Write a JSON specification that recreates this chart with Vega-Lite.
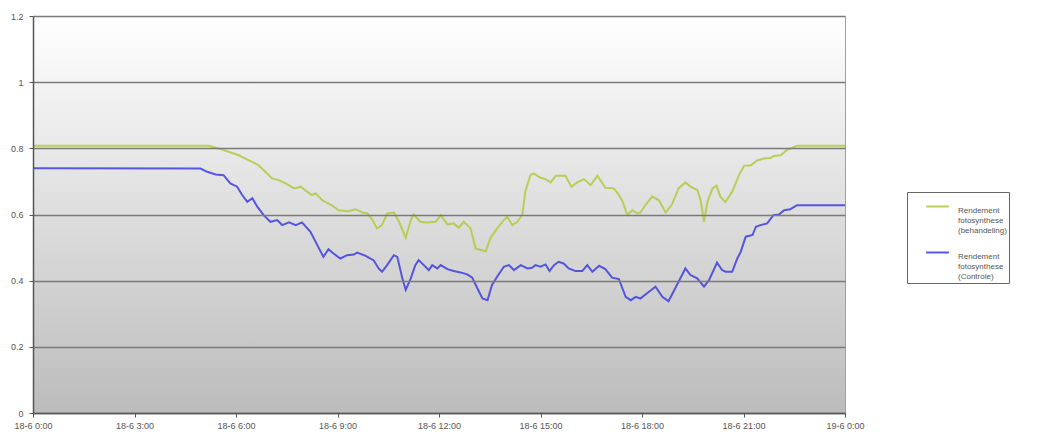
{
  "$schema": "https://vega.github.io/schema/vega-lite/v6.json",
  "width": 812,
  "height": 397,
  "autosize": {"type": "none"},
  "padding": {"left": 33, "top": 16, "right": 200, "bottom": 31},
  "background": "white",
  "view": {"stroke": "#a0a0a0"},
  "datasets": {
    "behandeling": [
      {"tijd": "2008-06-18T00:00", "waarde": 0.808},
      {"tijd": "2008-06-18T05:12", "waarde": 0.808},
      {"tijd": "2008-06-18T05:38", "waarde": 0.795},
      {"tijd": "2008-06-18T06:05", "waarde": 0.779},
      {"tijd": "2008-06-18T06:17", "waarde": 0.769},
      {"tijd": "2008-06-18T06:40", "waarde": 0.749},
      {"tijd": "2008-06-18T06:52", "waarde": 0.729},
      {"tijd": "2008-06-18T07:04", "waarde": 0.709},
      {"tijd": "2008-06-18T07:16", "waarde": 0.704},
      {"tijd": "2008-06-18T07:28", "waarde": 0.694},
      {"tijd": "2008-06-18T07:43", "waarde": 0.679},
      {"tijd": "2008-06-18T07:55", "waarde": 0.684},
      {"tijd": "2008-06-18T08:06", "waarde": 0.669},
      {"tijd": "2008-06-18T08:15", "waarde": 0.659},
      {"tijd": "2008-06-18T08:21", "waarde": 0.664},
      {"tijd": "2008-06-18T08:33", "waarde": 0.643},
      {"tijd": "2008-06-18T08:50", "waarde": 0.628},
      {"tijd": "2008-06-18T09:02", "waarde": 0.613},
      {"tijd": "2008-06-18T09:20", "waarde": 0.610},
      {"tijd": "2008-06-18T09:32", "waarde": 0.616},
      {"tijd": "2008-06-18T09:44", "waarde": 0.606},
      {"tijd": "2008-06-18T09:53", "waarde": 0.603},
      {"tijd": "2008-06-18T10:02", "waarde": 0.583},
      {"tijd": "2008-06-18T10:10", "waarde": 0.558},
      {"tijd": "2008-06-18T10:19", "waarde": 0.568},
      {"tijd": "2008-06-18T10:28", "waarde": 0.603},
      {"tijd": "2008-06-18T10:40", "waarde": 0.606},
      {"tijd": "2008-06-18T10:49", "waarde": 0.578},
      {"tijd": "2008-06-18T11:01", "waarde": 0.530},
      {"tijd": "2008-06-18T11:10", "waarde": 0.583},
      {"tijd": "2008-06-18T11:15", "waarde": 0.600},
      {"tijd": "2008-06-18T11:27", "waarde": 0.578},
      {"tijd": "2008-06-18T11:39", "waarde": 0.576},
      {"tijd": "2008-06-18T11:54", "waarde": 0.578},
      {"tijd": "2008-06-18T12:03", "waarde": 0.598},
      {"tijd": "2008-06-18T12:15", "waarde": 0.570},
      {"tijd": "2008-06-18T12:26", "waarde": 0.573},
      {"tijd": "2008-06-18T12:35", "waarde": 0.560},
      {"tijd": "2008-06-18T12:44", "waarde": 0.578},
      {"tijd": "2008-06-18T12:56", "waarde": 0.558},
      {"tijd": "2008-06-18T13:05", "waarde": 0.497},
      {"tijd": "2008-06-18T13:23", "waarde": 0.489},
      {"tijd": "2008-06-18T13:31", "waarde": 0.528},
      {"tijd": "2008-06-18T13:43", "waarde": 0.558},
      {"tijd": "2008-06-18T13:55", "waarde": 0.583},
      {"tijd": "2008-06-18T14:01", "waarde": 0.593},
      {"tijd": "2008-06-18T14:10", "waarde": 0.568},
      {"tijd": "2008-06-18T14:19", "waarde": 0.578},
      {"tijd": "2008-06-18T14:28", "waarde": 0.600},
      {"tijd": "2008-06-18T14:33", "waarde": 0.669},
      {"tijd": "2008-06-18T14:42", "waarde": 0.719},
      {"tijd": "2008-06-18T14:48", "waarde": 0.724},
      {"tijd": "2008-06-18T15:00", "waarde": 0.711},
      {"tijd": "2008-06-18T15:09", "waarde": 0.707},
      {"tijd": "2008-06-18T15:18", "waarde": 0.697},
      {"tijd": "2008-06-18T15:27", "waarde": 0.717},
      {"tijd": "2008-06-18T15:44", "waarde": 0.717},
      {"tijd": "2008-06-18T15:55", "waarde": 0.684},
      {"tijd": "2008-06-18T16:05", "waarde": 0.697},
      {"tijd": "2008-06-18T16:17", "waarde": 0.707},
      {"tijd": "2008-06-18T16:29", "waarde": 0.689},
      {"tijd": "2008-06-18T16:41", "waarde": 0.717},
      {"tijd": "2008-06-18T16:55", "waarde": 0.681},
      {"tijd": "2008-06-18T17:10", "waarde": 0.679},
      {"tijd": "2008-06-18T17:19", "waarde": 0.659},
      {"tijd": "2008-06-18T17:26", "waarde": 0.638},
      {"tijd": "2008-06-18T17:34", "waarde": 0.598},
      {"tijd": "2008-06-18T17:43", "waarde": 0.613},
      {"tijd": "2008-06-18T17:52", "waarde": 0.603},
      {"tijd": "2008-06-18T17:57", "waarde": 0.606},
      {"tijd": "2008-06-18T18:06", "waarde": 0.628},
      {"tijd": "2008-06-18T18:18", "waarde": 0.654},
      {"tijd": "2008-06-18T18:30", "waarde": 0.643},
      {"tijd": "2008-06-18T18:42", "waarde": 0.606},
      {"tijd": "2008-06-18T18:53", "waarde": 0.630},
      {"tijd": "2008-06-18T19:05", "waarde": 0.679},
      {"tijd": "2008-06-18T19:17", "waarde": 0.697},
      {"tijd": "2008-06-18T19:26", "waarde": 0.684},
      {"tijd": "2008-06-18T19:38", "waarde": 0.674},
      {"tijd": "2008-06-18T19:44", "waarde": 0.643},
      {"tijd": "2008-06-18T19:50", "waarde": 0.578},
      {"tijd": "2008-06-18T19:56", "waarde": 0.638},
      {"tijd": "2008-06-18T20:05", "waarde": 0.679},
      {"tijd": "2008-06-18T20:12", "waarde": 0.687},
      {"tijd": "2008-06-18T20:19", "waarde": 0.654},
      {"tijd": "2008-06-18T20:28", "waarde": 0.638},
      {"tijd": "2008-06-18T20:40", "waarde": 0.669},
      {"tijd": "2008-06-18T20:52", "waarde": 0.719},
      {"tijd": "2008-06-18T21:01", "waarde": 0.747},
      {"tijd": "2008-06-18T21:13", "waarde": 0.749},
      {"tijd": "2008-06-18T21:25", "waarde": 0.764},
      {"tijd": "2008-06-18T21:36", "waarde": 0.769},
      {"tijd": "2008-06-18T21:48", "waarde": 0.771},
      {"tijd": "2008-06-18T21:54", "waarde": 0.777},
      {"tijd": "2008-06-18T22:06", "waarde": 0.779},
      {"tijd": "2008-06-18T22:17", "waarde": 0.795},
      {"tijd": "2008-06-18T22:35", "waarde": 0.808},
      {"tijd": "2008-06-19T00:00", "waarde": 0.808}
    ],
    "controle": [
      {"tijd": "2008-06-18T00:00", "waarde": 0.740},
      {"tijd": "2008-06-18T04:57", "waarde": 0.739},
      {"tijd": "2008-06-18T05:09", "waarde": 0.729},
      {"tijd": "2008-06-18T05:24", "waarde": 0.721},
      {"tijd": "2008-06-18T05:38", "waarde": 0.719},
      {"tijd": "2008-06-18T05:50", "waarde": 0.694},
      {"tijd": "2008-06-18T06:02", "waarde": 0.684},
      {"tijd": "2008-06-18T06:11", "waarde": 0.659},
      {"tijd": "2008-06-18T06:20", "waarde": 0.638},
      {"tijd": "2008-06-18T06:29", "waarde": 0.649},
      {"tijd": "2008-06-18T06:38", "waarde": 0.623},
      {"tijd": "2008-06-18T06:49", "waarde": 0.598},
      {"tijd": "2008-06-18T07:01", "waarde": 0.578},
      {"tijd": "2008-06-18T07:13", "waarde": 0.583},
      {"tijd": "2008-06-18T07:22", "waarde": 0.568},
      {"tijd": "2008-06-18T07:34", "waarde": 0.576},
      {"tijd": "2008-06-18T07:46", "waarde": 0.568},
      {"tijd": "2008-06-18T07:57", "waarde": 0.576},
      {"tijd": "2008-06-18T08:12", "waarde": 0.548},
      {"tijd": "2008-06-18T08:21", "waarde": 0.518},
      {"tijd": "2008-06-18T08:35", "waarde": 0.472},
      {"tijd": "2008-06-18T08:44", "waarde": 0.495},
      {"tijd": "2008-06-18T08:53", "waarde": 0.482},
      {"tijd": "2008-06-18T09:05", "waarde": 0.467},
      {"tijd": "2008-06-18T09:17", "waarde": 0.477},
      {"tijd": "2008-06-18T09:29", "waarde": 0.479},
      {"tijd": "2008-06-18T09:35", "waarde": 0.485},
      {"tijd": "2008-06-18T09:50", "waarde": 0.475},
      {"tijd": "2008-06-18T09:56", "waarde": 0.469},
      {"tijd": "2008-06-18T10:04", "waarde": 0.462},
      {"tijd": "2008-06-18T10:13", "waarde": 0.437},
      {"tijd": "2008-06-18T10:19", "waarde": 0.427},
      {"tijd": "2008-06-18T10:28", "waarde": 0.447},
      {"tijd": "2008-06-18T10:40", "waarde": 0.477},
      {"tijd": "2008-06-18T10:46", "waarde": 0.472},
      {"tijd": "2008-06-18T10:55", "waarde": 0.407},
      {"tijd": "2008-06-18T11:01", "waarde": 0.372},
      {"tijd": "2008-06-18T11:10", "waarde": 0.407},
      {"tijd": "2008-06-18T11:18", "waarde": 0.447},
      {"tijd": "2008-06-18T11:24", "waarde": 0.462},
      {"tijd": "2008-06-18T11:33", "waarde": 0.447},
      {"tijd": "2008-06-18T11:42", "waarde": 0.432},
      {"tijd": "2008-06-18T11:48", "waarde": 0.447},
      {"tijd": "2008-06-18T11:57", "waarde": 0.437},
      {"tijd": "2008-06-18T12:03", "waarde": 0.447},
      {"tijd": "2008-06-18T12:15", "waarde": 0.435},
      {"tijd": "2008-06-18T12:26", "waarde": 0.429},
      {"tijd": "2008-06-18T12:38", "waarde": 0.425},
      {"tijd": "2008-06-18T12:50", "waarde": 0.419},
      {"tijd": "2008-06-18T12:59", "waarde": 0.409},
      {"tijd": "2008-06-18T13:08", "waarde": 0.377},
      {"tijd": "2008-06-18T13:17", "waarde": 0.346},
      {"tijd": "2008-06-18T13:26", "waarde": 0.341},
      {"tijd": "2008-06-18T13:34", "waarde": 0.387},
      {"tijd": "2008-06-18T13:43", "waarde": 0.412},
      {"tijd": "2008-06-18T13:55", "waarde": 0.442},
      {"tijd": "2008-06-18T14:04", "waarde": 0.447},
      {"tijd": "2008-06-18T14:13", "waarde": 0.432},
      {"tijd": "2008-06-18T14:25", "waarde": 0.447},
      {"tijd": "2008-06-18T14:37", "waarde": 0.437},
      {"tijd": "2008-06-18T14:45", "waarde": 0.439},
      {"tijd": "2008-06-18T14:51", "waarde": 0.447},
      {"tijd": "2008-06-18T15:00", "waarde": 0.442},
      {"tijd": "2008-06-18T15:09", "waarde": 0.449},
      {"tijd": "2008-06-18T15:16", "waarde": 0.429},
      {"tijd": "2008-06-18T15:24", "waarde": 0.447},
      {"tijd": "2008-06-18T15:32", "waarde": 0.457},
      {"tijd": "2008-06-18T15:41", "waarde": 0.452},
      {"tijd": "2008-06-18T15:50", "waarde": 0.437},
      {"tijd": "2008-06-18T16:02", "waarde": 0.429},
      {"tijd": "2008-06-18T16:14", "waarde": 0.429},
      {"tijd": "2008-06-18T16:23", "waarde": 0.447},
      {"tijd": "2008-06-18T16:32", "waarde": 0.427},
      {"tijd": "2008-06-18T16:44", "waarde": 0.445},
      {"tijd": "2008-06-18T16:55", "waarde": 0.435},
      {"tijd": "2008-06-18T17:07", "waarde": 0.409},
      {"tijd": "2008-06-18T17:19", "waarde": 0.405},
      {"tijd": "2008-06-18T17:31", "waarde": 0.351},
      {"tijd": "2008-06-18T17:40", "waarde": 0.341},
      {"tijd": "2008-06-18T17:49", "waarde": 0.351},
      {"tijd": "2008-06-18T17:57", "waarde": 0.346},
      {"tijd": "2008-06-18T18:09", "waarde": 0.362},
      {"tijd": "2008-06-18T18:24", "waarde": 0.382},
      {"tijd": "2008-06-18T18:36", "waarde": 0.351},
      {"tijd": "2008-06-18T18:47", "waarde": 0.338},
      {"tijd": "2008-06-18T18:56", "waarde": 0.367},
      {"tijd": "2008-06-18T19:05", "waarde": 0.397},
      {"tijd": "2008-06-18T19:17", "waarde": 0.437},
      {"tijd": "2008-06-18T19:26", "waarde": 0.417},
      {"tijd": "2008-06-18T19:38", "waarde": 0.407},
      {"tijd": "2008-06-18T19:50", "waarde": 0.382},
      {"tijd": "2008-06-18T19:59", "waarde": 0.402},
      {"tijd": "2008-06-18T20:07", "waarde": 0.432},
      {"tijd": "2008-06-18T20:13", "waarde": 0.455},
      {"tijd": "2008-06-18T20:22", "waarde": 0.432},
      {"tijd": "2008-06-18T20:28", "waarde": 0.427},
      {"tijd": "2008-06-18T20:40", "waarde": 0.427},
      {"tijd": "2008-06-18T20:49", "waarde": 0.467},
      {"tijd": "2008-06-18T20:55", "waarde": 0.487},
      {"tijd": "2008-06-18T21:04", "waarde": 0.533},
      {"tijd": "2008-06-18T21:16", "waarde": 0.538},
      {"tijd": "2008-06-18T21:22", "waarde": 0.563},
      {"tijd": "2008-06-18T21:30", "waarde": 0.568},
      {"tijd": "2008-06-18T21:42", "waarde": 0.573},
      {"tijd": "2008-06-18T21:53", "waarde": 0.598},
      {"tijd": "2008-06-18T22:03", "waarde": 0.600},
      {"tijd": "2008-06-18T22:12", "waarde": 0.613},
      {"tijd": "2008-06-18T22:23", "waarde": 0.616},
      {"tijd": "2008-06-18T22:35", "waarde": 0.628},
      {"tijd": "2008-06-19T00:00", "waarde": 0.628}
    ]
  },
  "layer": [
    {
      "data": {"values": [{}]},
      "mark": {"type": "rect", "color": {"gradient": "linear", "x1": 0, "y1": 0, "x2": 0, "y2": 1, "stops": [{"offset": 0, "color": "#ffffff"}, {"offset": 1, "color": "#bcbcbc"}]}},
      "encoding": {
        "x": {"datum": {"year": 2008, "month": 6, "date": 18, "hours": 0}, "type": "temporal"},
        "x2": {"datum": {"year": 2008, "month": 6, "date": 19, "hours": 0}},
        "y": {"datum": 0, "type": "quantitative"},
        "y2": {"datum": 1.2}
      }
    },
    {
      "data": {"name": "behandeling"},
      "mark": {"type": "line", "strokeWidth": 2, "opacity": 0.9},
      "encoding": {
        "x": {
          "field": "tijd", "type": "temporal",
          "scale": {"domain": [{"year": 2008, "month": 6, "date": 18, "hours": 0}, {"year": 2008, "month": 6, "date": 19, "hours": 0}], "nice": false},
          "axis": {"title": null, "format": "%-d-%-m %-H:%M", "values": [
            {"year": 2008, "month": 6, "date": 18, "hours": 0},
            {"year": 2008, "month": 6, "date": 18, "hours": 3},
            {"year": 2008, "month": 6, "date": 18, "hours": 6},
            {"year": 2008, "month": 6, "date": 18, "hours": 9},
            {"year": 2008, "month": 6, "date": 18, "hours": 12},
            {"year": 2008, "month": 6, "date": 18, "hours": 15},
            {"year": 2008, "month": 6, "date": 18, "hours": 18},
            {"year": 2008, "month": 6, "date": 18, "hours": 21},
            {"year": 2008, "month": 6, "date": 19, "hours": 0}
          ], "grid": false, "labelFontSize": 9, "labelColor": "#555555", "tickColor": "#555555", "domainColor": "#555555", "domainWidth": 1.5, "tickSize": 4, "labelPadding": 4, "labelOverlap": false, "labelFlush": false, "zindex": 1}
        },
        "y": {
          "field": "waarde", "type": "quantitative",
          "scale": {"domain": [0, 1.2], "nice": false},
          "axis": {"title": null, "values": [0, 0.2, 0.4, 0.6, 0.8, 1, 1.2], "format": "~g", "grid": true, "gridColor": "#7a7a7a", "gridWidth": 1.6, "labelFontSize": 9, "labelColor": "#555555", "tickColor": "#555555", "domainColor": "#555555", "domainWidth": 1.5, "tickSize": 4, "labelPadding": 6, "zindex": 1}
        },
        "color": {
          "datum": "Rendement fotosynthese (behandeling)", "type": "nominal",
          "scale": {"domain": ["Rendement fotosynthese (behandeling)", "Rendement fotosynthese (Controle)"], "range": ["#b3cc47", "#4646e0"]},
          "legend": {"orient": "none", "legendX": 874, "legendY": 176, "title": null, "symbolType": "stroke", "symbolSize": 520, "symbolStrokeWidth": 2, "labelFontSize": 8, "labelColor": "#555555", "labelExpr": "[split(datum.label, ' ')[0], split(datum.label, ' ')[1], split(datum.label, ' ')[2] + '                ']", "labelBaseline": "top", "strokeColor": "#666666", "padding": 2, "rowPadding": 5, "symbolOffset": 16, "labelOffset": 8, "labelLimit": 300}
        }
      }
    },
    {
      "data": {"name": "controle"},
      "mark": {"type": "line", "strokeWidth": 2, "opacity": 0.9},
      "encoding": {
        "x": {"field": "tijd", "type": "temporal"},
        "y": {"field": "waarde", "type": "quantitative"},
        "color": {"datum": "Rendement fotosynthese (Controle)", "type": "nominal"}
      }
    }
  ]
}
